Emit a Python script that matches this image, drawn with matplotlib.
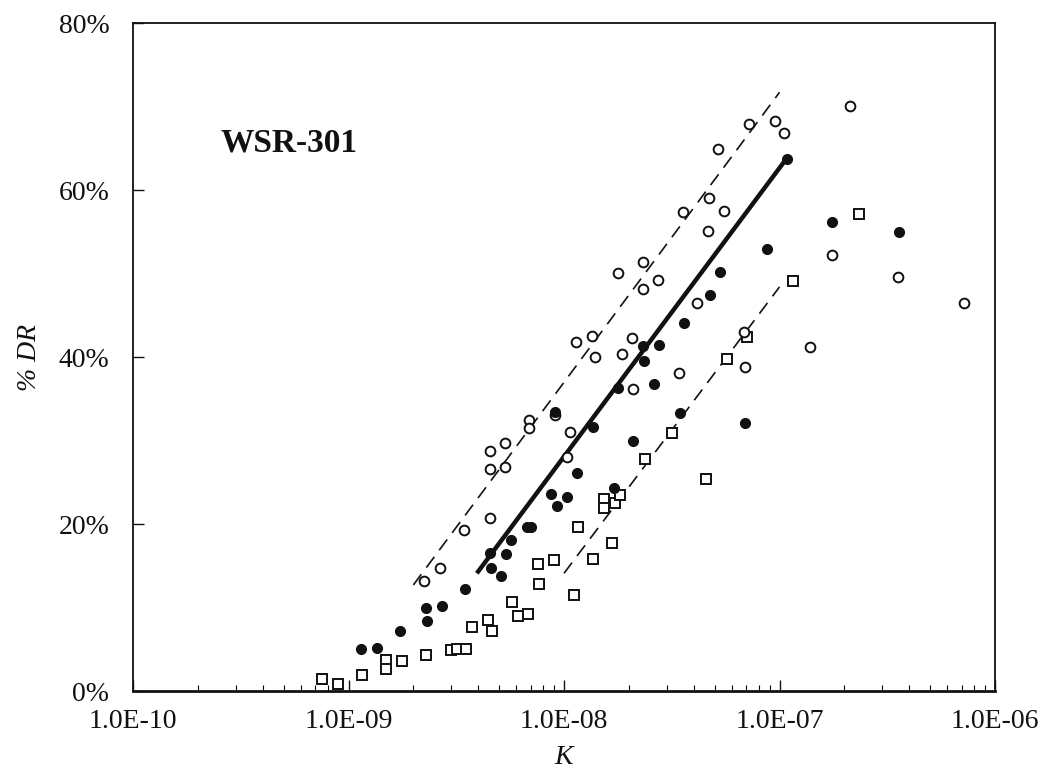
import matplotlib
matplotlib.use("Agg")
import matplotlib.pyplot as plt
from matplotlib.ticker import LogLocator, NullFormatter

# open circles
open_K = [2.25e-9, 2.65e-9, 3.43e-9, 4.53e-9, 4.53e-9, 4.53e-9, 5.32e-9, 5.32e-9,
          6.87e-9, 6.87e-9, 9.08e-9, 1.07e-8, 1.03e-8, 1.14e-8, 1.35e-8, 1.39e-8,
          1.78e-8, 2.33e-8, 2.33e-8, 2.73e-8, 2.07e-8, 1.86e-8, 2.09e-8, 3.43e-8,
          4.16e-8, 2.12e-7, 7.18e-8, 9.48e-8, 1.05e-7, 5.2e-8, 4.72e-8, 5.55e-8,
          3.57e-8, 4.68e-8, 1.75e-7, 3.54e-7, 7.18e-7, 1.39e-7, 6.87e-8, 6.95e-8]
open_DR = [13.2, 14.7, 19.3, 20.7, 28.7, 26.6, 29.7, 26.8,
           32.5, 31.5, 33.0, 31.0, 28.0, 41.8, 42.5, 40.0,
           50.1, 51.4, 48.1, 49.2, 42.3, 40.4, 36.2, 38.1,
           46.5, 70.1, 67.9, 68.3, 66.8, 64.9, 59.0, 57.5,
           57.4, 55.1, 52.2, 49.6, 46.5, 41.2, 43.0, 38.8]

# filled circles
fill_K = [1.14e-9, 1.35e-9, 1.73e-9, 2.28e-9, 2.71e-9, 2.31e-9, 3.47e-9, 4.53e-9,
          4.57e-9, 5.09e-9, 5.37e-9, 5.66e-9, 6.7e-9, 7.0e-9, 8.7e-9, 1.03e-8,
          9.27e-9, 1.15e-8, 1.36e-8, 9.08e-9, 1.78e-8, 2.33e-8, 2.35e-8, 2.77e-8,
          2.62e-8, 3.61e-8, 2.09e-8, 3.47e-8, 1.71e-8, 1.08e-7, 1.75e-7, 3.57e-7,
          8.71e-8, 5.32e-8, 4.77e-8, 6.95e-8]
fill_DR = [5.0, 5.1, 7.2, 9.9, 10.2, 8.4, 12.2, 16.5,
           14.7, 13.8, 16.4, 18.1, 19.6, 19.6, 23.6, 23.2,
           22.2, 26.1, 31.6, 33.4, 36.3, 41.3, 39.5, 41.4,
           36.8, 44.1, 29.9, 33.3, 24.3, 63.7, 56.2, 55.0,
           52.9, 50.2, 47.4, 32.1]

# open squares
sq_K = [7.5e-10, 8.9e-10, 1.15e-9, 1.5e-9, 1.5e-9, 1.78e-9, 2.3e-9, 3.0e-9,
        3.2e-9, 3.5e-9, 3.73e-9, 4.43e-9, 4.63e-9, 5.73e-9, 6.1e-9, 6.8e-9,
        7.57e-9, 7.65e-9, 8.97e-9, 1.16e-8, 1.11e-8, 1.36e-8, 1.53e-8, 1.53e-8,
        1.73e-8, 1.82e-8, 2.38e-8, 3.18e-8, 1.67e-8, 4.57e-8, 5.73e-8, 7.03e-8,
        1.16e-7, 2.33e-7]
sq_DR = [1.4, 0.8, 1.9, 3.7, 2.6, 3.6, 4.3, 4.9,
         5.0, 5.0, 7.7, 8.5, 7.2, 10.7, 9.0, 9.2,
         15.2, 12.8, 15.7, 19.6, 11.5, 15.8, 23.0, 21.9,
         22.5, 23.5, 27.8, 30.9, 17.7, 25.4, 39.8, 42.4,
         49.1, 57.1]

# fit line and bounds
fit_K, fit_DR = [3.94e-9, 1.08e-7], [14.1, 63.8]
upper_K, upper_DR = [2.0e-9, 1.0e-7], [12.7, 71.7]
lower_K, lower_DR = [1.0e-8, 1.0e-7], [14.1, 48.4]

xticks = [1e-10, 1e-9, 1e-8, 1e-7, 1e-6]
xtick_labels = ["1.0E-10", "1.0E-09", "1.0E-08", "1.0E-07", "1.0E-06"]
yticks = [0, 20, 40, 60, 80]
ytick_labels = ["0%", "20%", "40%", "60%", "80%"]

plt.rcParams["font.family"] = ["Liberation Serif", "DejaVu Serif"]
INK = "#111111"

fig = plt.figure(figsize=(10.59, 7.72), dpi=100)
ax = fig.add_axes([0.1256, 0.1049, 0.8140, 0.8653])

ax.plot(upper_K, upper_DR, color=INK, lw=1.2, dashes=(8, 5))
ax.plot(lower_K, lower_DR, color=INK, lw=1.2, dashes=(8, 5))
ax.plot(fit_K, fit_DR, color=INK, lw=3.2, solid_capstyle="butt")

ms = 7
ax.plot(sq_K, sq_DR, ls="none", marker="s", ms=ms - 0.5, mfc="white", mec=INK, mew=1.4)
ax.plot(open_K, open_DR, ls="none", marker="o", ms=ms, mfc="white", mec=INK, mew=1.4)
ax.plot(fill_K, fill_DR, ls="none", marker="o", ms=ms, mfc=INK, mec=INK, mew=1.0)

ax.set_xscale("log")
ax.set_xlim(1e-10, 1e-6)
ax.set_ylim(0, 80)
ax.set_xticks(xticks)
ax.set_xticklabels(xtick_labels)
ax.xaxis.set_minor_locator(LogLocator(base=10, subs=range(2, 10), numticks=20))
ax.xaxis.set_minor_formatter(NullFormatter())
ax.set_yticks(yticks)
ax.set_yticklabels(ytick_labels)

ax.tick_params(axis="both", which="major", direction="in", length=8, width=1.0,
               labelsize=20, colors=INK)
ax.tick_params(axis="x", which="major", pad=13)
ax.tick_params(axis="x", which="minor", direction="in", length=4, width=0.8)
ax.tick_params(axis="y", which="major", pad=17)
for sp in ax.spines.values():
    sp.set_linewidth(1.3)
    sp.set_color(INK)
ax.spines["bottom"].set_linewidth(2.0)

ax.set_xlabel("K", fontsize=20, style="italic", color=INK, labelpad=8)
ax.set_ylabel("% DR", fontsize=20, style="italic", color=INK, labelpad=12)

ax.text(0.101, 0.82, "WSR-301", transform=ax.transAxes, fontsize=24,
        fontweight="bold", color=INK, va="center", ha="left")

fig.savefig("out.png", dpi=100)
